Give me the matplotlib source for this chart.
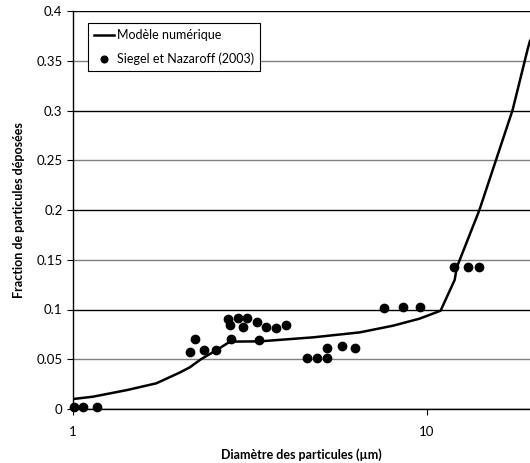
import numpy as np
import matplotlib.pyplot as plt

plt.rcParams['font.family'] = ['Lato', 'DejaVu Sans']

# model curve (numerical model)
model_d = [1.0, 1.14, 1.42, 1.72, 2.0, 2.14, 2.3, 2.54, 2.78, 3.38, 4.77, 6.47, 8.03, 9.55, 10.95,
           12.0, 12.18, 14.1, 15.7, 17.5, 19.33, 19.6]
model_f = [0.010, 0.0124, 0.019, 0.0258, 0.0365, 0.0419, 0.050, 0.059, 0.0677, 0.068, 0.072, 0.077,
           0.0837, 0.0908, 0.0988, 0.1297, 0.1427, 0.200, 0.250, 0.3005, 0.3625, 0.370]

# measurements, Siegel et Nazaroff (2003)
meas_d = [1.0065, 1.069, 1.167, 2.145, 2.21, 2.345, 2.535, 2.746, 2.771, 2.79, 2.925, 3.016, 3.095,
          3.316, 3.36, 3.51, 3.753, 4.015, 4.60, 4.90, 5.21, 5.22, 5.77, 6.26,
          7.58, 8.57, 9.55, 11.92, 13.06, 14.09]
meas_f = [0.002, 0.002, 0.002, 0.057, 0.0703, 0.0596, 0.059, 0.0901, 0.0841, 0.070, 0.0911, 0.0827, 0.0911,
          0.0871, 0.0693, 0.0827, 0.0817, 0.0844, 0.0513, 0.0513, 0.0513, 0.0616, 0.0636, 0.0616,
          0.1012, 0.1022, 0.1022, 0.1427, 0.1427, 0.1427]

yticks = [0, 0.05, 0.1, 0.15, 0.2, 0.25, 0.3, 0.35, 0.4]
ytick_labels = ['0', '0.05', '0.1', '0.15', '0.2', '0.25', '0.3', '0.35', '0.4']

fig = plt.figure(figsize=(5.3, 4.63), dpi=100)
ax = fig.add_axes([73 / 530, 1 - 409 / 463, 1 - 73 / 530, (409 - 11) / 463])

# horizontal gridlines, alternating black / gray as in the original
for i, y in enumerate(yticks):
    ax.axhline(y, color='black' if i % 2 == 0 else '#808080', lw=1.0, zorder=1)

ax.plot(model_d, model_f, color='black', lw=1.8, label='Modèle numérique', zorder=3)
ax.plot(meas_d, meas_f, 'o', color='black', ms=6, label='Siegel et Nazaroff (2003)', zorder=4,
        clip_on=False)

ax.set_xscale('log')
ax.set_xlim(1, 19.6)
ax.set_ylim(0, 0.4)
ax.set_xticks([1, 10])
ax.set_xticklabels(['1', '10'])
ax.xaxis.set_minor_locator(plt.NullLocator())
ax.set_yticks(yticks)
ax.set_yticklabels(ytick_labels)

for s in ['top', 'right']:
    ax.spines[s].set_visible(False)
ax.spines['left'].set_linewidth(1.0)
ax.spines['bottom'].set_linewidth(1.0)
ax.spines['left'].set_zorder(5)
ax.tick_params(axis='both', labelsize=9.5, length=4, width=0.8, colors='black')
ax.tick_params(axis='x', pad=8)

ax.set_xlabel('Diamètre des particules (µm)', fontsize=9, fontweight='bold', labelpad=8)
ax.set_ylabel('Fraction de particules déposées', fontsize=9, fontweight='bold', labelpad=8)

leg = ax.legend(loc='upper left', bbox_to_anchor=(0.032, 0.97), fontsize=9, frameon=True,
                fancybox=False, edgecolor='black', framealpha=1, handlelength=1.6,
                handletextpad=0.25, borderpad=0.5, labelspacing=0.9, borderaxespad=0,
                markerscale=0.8)
leg.get_frame().set_linewidth(0.8)
leg.set_zorder(6)

fig.savefig('out.png', dpi=100)
